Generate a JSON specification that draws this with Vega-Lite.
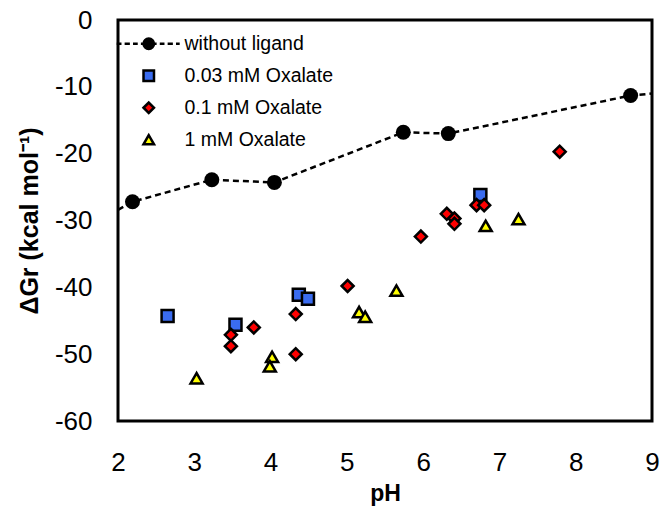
{
  "$schema": "https://vega.github.io/schema/vega-lite/v6.json",
  "width": 534,
  "height": 401,
  "autosize": "none",
  "padding": {"left": 118, "top": 20, "right": 8, "bottom": 85},
  "background": "white",
  "config": {
    "font": "Liberation Sans",
    "view": {"stroke": "black", "strokeWidth": 3},
    "axis": {
      "grid": false,
      "domain": false,
      "ticks": false,
      "labelColor": "black",
      "labelFontSize": 26,
      "labelFlush": false,
      "labelOverlap": false,
      "labelExpr": "toString(datum.value)",
      "titleColor": "black",
      "titleFontWeight": "bold",
      "titleFontSize": 24
    }
  },
  "datasets": {
    "ligand": [
      {"series": "without ligand", "kind": "line end", "pH": 2.0, "dG": -28.4},
      {"series": "without ligand", "kind": "measured", "pH": 2.19, "dG": -27.2},
      {"series": "without ligand", "kind": "measured", "pH": 3.23, "dG": -23.9},
      {"series": "without ligand", "kind": "measured", "pH": 4.05, "dG": -24.3},
      {"series": "without ligand", "kind": "measured", "pH": 5.74, "dG": -16.8},
      {"series": "without ligand", "kind": "measured", "pH": 6.33, "dG": -17.0},
      {"series": "without ligand", "kind": "measured", "pH": 8.72, "dG": -11.3},
      {"series": "without ligand", "kind": "line end", "pH": 9.0, "dG": -11.0}
    ],
    "oxalate": [
      {"series": "0.03 mM Oxalate", "pH": 2.65, "dG": -44.3},
      {"series": "0.03 mM Oxalate", "pH": 3.54, "dG": -45.6},
      {"series": "0.03 mM Oxalate", "pH": 4.37, "dG": -41.1},
      {"series": "0.03 mM Oxalate", "pH": 4.49, "dG": -41.7},
      {"series": "0.03 mM Oxalate", "pH": 6.75, "dG": -26.2},
      {"series": "0.1 mM Oxalate", "pH": 3.48, "dG": -47.1},
      {"series": "0.1 mM Oxalate", "pH": 3.48, "dG": -48.8},
      {"series": "0.1 mM Oxalate", "pH": 3.78, "dG": -46.0},
      {"series": "0.1 mM Oxalate", "pH": 4.33, "dG": -44.0},
      {"series": "0.1 mM Oxalate", "pH": 4.33, "dG": -50.0},
      {"series": "0.1 mM Oxalate", "pH": 5.01, "dG": -39.8},
      {"series": "0.1 mM Oxalate", "pH": 5.97, "dG": -32.4},
      {"series": "0.1 mM Oxalate", "pH": 6.31, "dG": -29.0},
      {"series": "0.1 mM Oxalate", "pH": 6.41, "dG": -29.7},
      {"series": "0.1 mM Oxalate", "pH": 6.41, "dG": -30.5},
      {"series": "0.1 mM Oxalate", "pH": 6.70, "dG": -27.7},
      {"series": "0.1 mM Oxalate", "pH": 6.80, "dG": -27.7},
      {"series": "0.1 mM Oxalate", "pH": 7.79, "dG": -19.7},
      {"series": "1 mM Oxalate", "pH": 3.03, "dG": -53.6},
      {"series": "1 mM Oxalate", "pH": 4.02, "dG": -50.4},
      {"series": "1 mM Oxalate", "pH": 3.99, "dG": -51.8},
      {"series": "1 mM Oxalate", "pH": 5.16, "dG": -43.7},
      {"series": "1 mM Oxalate", "pH": 5.24, "dG": -44.4},
      {"series": "1 mM Oxalate", "pH": 5.65, "dG": -40.5},
      {"series": "1 mM Oxalate", "pH": 6.82, "dG": -30.8},
      {"series": "1 mM Oxalate", "pH": 7.25, "dG": -29.8}
    ],
    "xticks": [{"pH": 3}, {"pH": 4}, {"pH": 5}, {"pH": 6}, {"pH": 7}, {"pH": 8}],
    "yticks": [{"dG": -50}, {"dG": -40}, {"dG": -30}, {"dG": -20}, {"dG": -10}]
  },
  "encoding": {
    "x": {
      "field": "pH", "type": "quantitative",
      "scale": {"domain": [2, 9], "nice": false, "zero": false},
      "axis": {"title": "pH", "values": [2, 3, 4, 5, 6, 7, 8, 9], "labelPadding": 28, "titlePadding": 7, "titleFontSize": 23}
    },
    "y": {
      "field": "dG", "type": "quantitative",
      "scale": {"domain": [-60, 0], "nice": false, "zero": false},
      "axis": {"title": "ΔGr (kcal mol⁻¹)", "values": [-60, -50, -40, -30, -20, -10, 0], "labelPadding": 26, "titlePadding": 12, "titleFontSize": 25}
    }
  },
  "layer": [
    {
      "data": {"name": "ligand"},
      "mark": {"type": "line", "stroke": "black", "strokeWidth": 2.5, "strokeDash": [6, 4]},
      "encoding": {}
    },
    {
      "data": {"name": "ligand"},
      "transform": [{"filter": "datum.kind === 'measured'"}],
      "mark": {"type": "point", "shape": "circle", "filled": true, "fill": "black", "size": 225, "opacity": 1},
      "encoding": {}
    },
    {
      "data": {"name": "oxalate"},
      "mark": {"type": "point", "filled": true, "stroke": "black", "strokeWidth": 2.5, "size": 144, "opacity": 1},
      "encoding": {
        "fill": {
          "field": "series", "type": "nominal",
          "scale": {"domain": ["without ligand", "0.03 mM Oxalate", "0.1 mM Oxalate", "1 mM Oxalate"], "range": ["black", "#3a6cf0", "#ff0000", "#ffff00"]},
          "legend": {
            "orient": "none", "legendX": 21, "legendY": 14, "title": null, "padding": 0,
            "labelFontSize": 19.5, "labelColor": "black", "labelOffset": 26, "rowPadding": 11,
            "symbolSize": 110, "symbolOpacity": 1, "symbolStrokeWidth": 2.5, "symbolStrokeColor": "black",
            "encode": {"symbols": {"update": {"stroke": {"value": "black"}, "strokeWidth": {"value": 2.5}, "opacity": {"value": 1}}}}
          }
        },
        "shape": {
          "field": "series", "type": "nominal",
          "scale": {"domain": ["without ligand", "0.03 mM Oxalate", "0.1 mM Oxalate", "1 mM Oxalate"], "range": ["M-6.1,0L-5.2,0M-4.6,0L-3.6,0M-3.0,0L-2.1,0M-1.5,0L-1,0M1,0L1.5,0M2.1,0L3.0,0M3.6,0L4.6,0M5.2,0L5.9,0M1,0A1,1,0,1,1,-1,0A1,1,0,1,1,1,0Z", "square", "diamond", "triangle-up"]},
          "legend": {
            "orient": "none", "legendX": 21, "legendY": 14, "title": null, "padding": 0,
            "labelFontSize": 19.5, "labelColor": "black", "labelOffset": 26, "rowPadding": 11,
            "symbolSize": 110, "symbolOpacity": 1, "symbolStrokeWidth": 2.5, "symbolStrokeColor": "black",
            "encode": {"symbols": {"update": {"stroke": {"value": "black"}, "strokeWidth": {"value": 2.5}, "opacity": {"value": 1}}}}
          }
        }
      }
    },
    {
      "data": {"name": "xticks"},
      "mark": {"type": "rule", "color": "#000000", "strokeWidth": 3, "opacity": 1},
      "encoding": {"y": {"datum": -60}, "y2": {"datum": -58.7}}
    },
    {
      "data": {"name": "yticks"},
      "mark": {"type": "rule", "color": "#000000", "strokeWidth": 3, "opacity": 1},
      "encoding": {"x": {"datum": 2}, "x2": {"datum": 2.12}}
    }
  ]
}
